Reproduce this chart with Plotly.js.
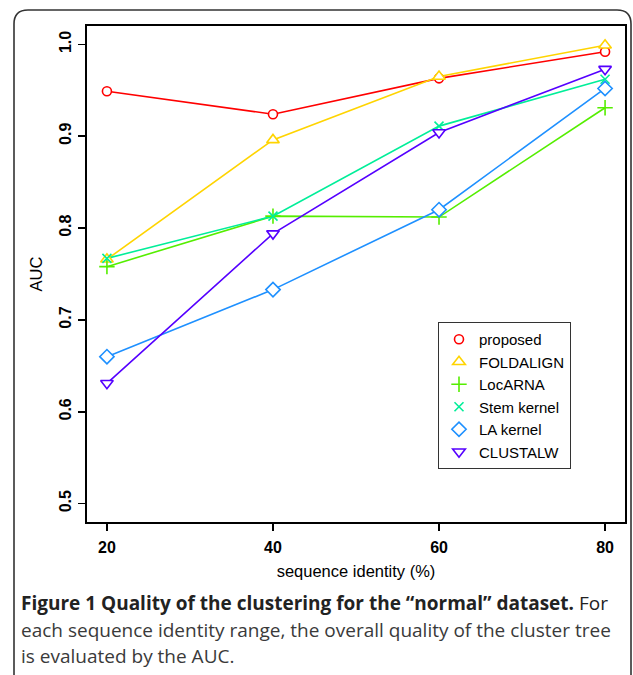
<!DOCTYPE html>
<html>
<head>
<meta charset="utf-8">
<script src="https://cdn.plot.ly/plotly-3.0.1.min.js"></script>
<style>
  html, body { margin: 0; padding: 0; background: #ffffff; }
  #chart { width: 633px; height: 675px; }
</style>
</head>
<body>
<div id="chart"></div>
<script>
// ---- data ----
const identity = [20, 40, 60, 80];
const seriesNames = ["proposed", "FOLDALIGN", "LocARNA", "Stem kernel", "LA kernel", "CLUSTALW"];
const proposed   = [0.949, 0.924, 0.963, 0.992];
const foldalign  = [0.766, 0.896, 0.965, 0.999];
const locarna    = [0.758, 0.813, 0.812, 0.931];
const stemKernel = [0.767, 0.813, 0.911, 0.962];
const laKernel   = [0.660, 0.733, 0.820, 0.952];
const clustalw   = [0.631, 0.794, 0.904, 0.973];
const yTicks = [0.5, 0.6, 0.7, 0.8, 0.9, 1.0];
const yTickLabels = ["0.5", "0.6", "0.7", "0.8", "0.9", "1.0"];
const xTicks = [20, 40, 60, 80];
const xTickLabels = ["20", "40", "60", "80"];

// ---- styles ----
const seriesValues = [proposed, foldalign, locarna, stemKernel, laKernel, clustalw];
const colors = ["#FF0000", "#FFD400", "#55EE00", "#00EE99", "#1E90FF", "#5500FF"];
const symbols = ["circle", "triangle-up", "cross-thin-open", "x-thin-open", "diamond", "triangle-down"];
const sizes = [9, 11, 11, 9, 11, 11];

const W = 633, H = 675;
const M = { l: 87, r: 8, t: 26, b: 153 };
const pw = W - M.l - M.r, ph = H - M.t - M.b;
const px2x = p => (p - M.l) / pw;
const px2y = p => (H - M.b - p) / ph;

const traces = [];
seriesNames.forEach((n, i) => {
  traces.push({
    x: identity, y: seriesValues[i], type: "scatter", mode: "lines",
    line: { color: colors[i], width: 1.6 }, showlegend: false, hoverinfo: "skip"
  });
});
seriesNames.forEach((n, i) => {
  const open = symbols[i].indexOf("open") >= 0;
  traces.push({
    x: identity, y: seriesValues[i], type: "scatter", mode: "markers", name: n,
    marker: {
      symbol: symbols[i], size: sizes[i],
      color: open ? colors[i] : "#ffffff",
      line: { color: colors[i], width: 1.6 }
    }
  });
});

function roundedBox(x0, y0, x1, y1, r) {
  const X = p => px2x(p), Y = p => px2y(p);
  return `M ${X(x0 + r)} ${Y(y0)} L ${X(x1 - r)} ${Y(y0)} Q ${X(x1)} ${Y(y0)} ${X(x1)} ${Y(y0 + r)} ` +
         `L ${X(x1)} ${Y(y1 - r)} Q ${X(x1)} ${Y(y1)} ${X(x1 - r)} ${Y(y1)} ` +
         `L ${X(x0 + r)} ${Y(y1)} Q ${X(x0)} ${Y(y1)} ${X(x0)} ${Y(y1 - r)} ` +
         `L ${X(x0)} ${Y(y0 + r)} Q ${X(x0)} ${Y(y0)} ${X(x0 + r)} ${Y(y0)} Z`;
}

const capFont = "Open Sans, Noto Sans, sans-serif";
const axFont = "Liberation Sans, Arial, sans-serif";
const layout = {
  width: W, height: H,
  margin: M,
  paper_bgcolor: "#ffffff", plot_bgcolor: "#ffffff",
  font: { family: axFont, color: "#000000" },
  showlegend: true,
  legend: {
    x: px2x(438), y: px2y(322), xanchor: "left", yanchor: "top",
    bgcolor: "#ffffff", bordercolor: "#333333", borderwidth: 1,
    font: { size: 15, family: axFont, color: "#000000" },
    tracegroupgap: 0, itemwidth: 30, entrywidth: 116, entrywidthmode: "pixels"
  },
  xaxis: {
    range: [17.6, 82.4], tickvals: xTicks, ticktext: xTickLabels,
    showgrid: false, zeroline: false,
    showline: true, mirror: true, linecolor: "#000000", linewidth: 2,
    ticks: "outside", ticklen: 7, tickwidth: 1.5, tickcolor: "#000000",
    ticklabelstandoff: 3,
    tickfont: { size: 16, family: axFont, color: "#000000", weight: "bold" },
    title: { text: "sequence identity (%)", font: { size: 16.5, color: "#000000" }, standoff: 10 }
  },
  yaxis: {
    range: [0.48, 1.02], tickvals: yTicks, ticktext: yTickLabels,
    showgrid: false, zeroline: false,
    showline: true, mirror: true, linecolor: "#000000", linewidth: 2,
    ticks: "outside", ticklen: 7, tickwidth: 1.5, tickcolor: "#000000", tickangle: -90,
    ticklabelstandoff: 1,
    tickfont: { size: 16, family: axFont, color: "#000000", weight: "bold" },
    title: { text: "AUC", font: { size: 16.5, color: "#000000" }, standoff: 10 }
  },
  shapes: [{
    type: "path", xref: "paper", yref: "paper", layer: "below",
    path: roundedBox(14, 10, 631, 690, 14),
    line: { color: "#333333", width: 1.6 }, fillcolor: "rgba(0,0,0,0)"
  }],
  annotations: [
    { xref: "paper", yref: "paper", x: px2x(19), y: px2y(603), xanchor: "left", yanchor: "middle",
      showarrow: false, align: "left",
      text: "<b>Figure 1 Quality of the clustering for the “normal” dataset.</b> For",
      font: { family: capFont, size: 19, color: "#222222" } },
    { xref: "paper", yref: "paper", x: px2x(19), y: px2y(630), xanchor: "left", yanchor: "middle",
      showarrow: false, align: "left",
      text: "each sequence identity range, the overall quality of the cluster tree",
      font: { family: capFont, size: 19, color: "#3a3a3a" } },
    { xref: "paper", yref: "paper", x: px2x(19), y: px2y(656), xanchor: "left", yanchor: "middle",
      showarrow: false, align: "left",
      text: "is evaluated by the AUC.",
      font: { family: capFont, size: 19, color: "#3a3a3a" } }
  ]
};

Plotly.newPlot("chart", traces, layout, { staticPlot: true, displayModeBar: false });
</script>
</body>
</html>
